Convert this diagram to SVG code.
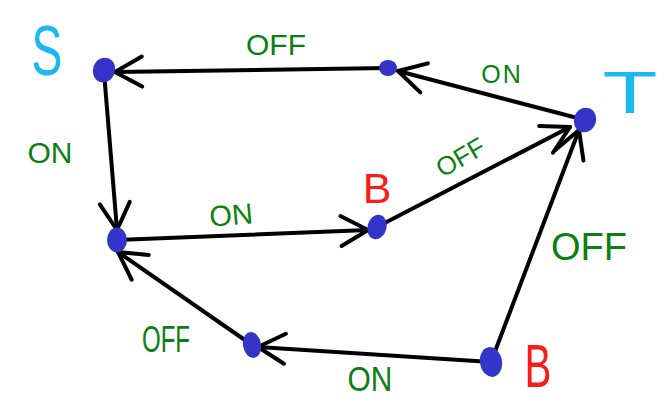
<svg xmlns="http://www.w3.org/2000/svg" width="668" height="415" viewBox="0 0 668 415">
<style>
.e{stroke:#000;stroke-width:4;stroke-linecap:round;fill:none;marker-end:url(#ah)}
.n{fill:#3434c8}
.lbl{font-family:"Liberation Sans",Arial,sans-serif;fill:#0b8012;text-anchor:middle}
.st{font-family:"Liberation Sans",Arial,sans-serif;fill:#1bb8f2;text-anchor:middle}
.b{font-family:"Liberation Sans",Arial,sans-serif;fill:#ff1a1a;text-anchor:middle}
</style>
<defs>
<marker id="ah" markerUnits="userSpaceOnUse" orient="auto" refX="0" refY="0" markerWidth="40" markerHeight="40" viewBox="-32 -20 40 40" overflow="visible">
<path d="M -27 -15 L 0 0 L -27 15" stroke="#000" stroke-width="4" stroke-linecap="round" stroke-linejoin="round" fill="none"/>
</marker>
</defs>
<rect width="668" height="415" fill="#fff"/>
<g id="connectors">
<line class="e" x1="388" y1="68" x2="115" y2="72"/>
<line class="e" x1="585" y1="120" x2="398" y2="71"/>
<line class="e" x1="104" y1="72" x2="117" y2="230"/>
<line class="e" x1="117" y1="240" x2="368" y2="230"/>
<line class="e" x1="377" y1="227" x2="570" y2="127"/>
<line class="e" x1="491" y1="362" x2="579" y2="130"/>
<line class="e" x1="491" y1="362" x2="258" y2="347"/>
<line class="e" x1="252" y1="345" x2="118" y2="252"/>
</g>
<g id="node-S"><ellipse class="n" cx="104" cy="70" rx="11" ry="12.5" transform="rotate(20 104 70)"/><text class="st" font-size="70" transform="translate(47,75) scale(0.66,1)">S</text></g>
<g id="node-top"><ellipse class="n" cx="388" cy="68" rx="9" ry="8"/></g>
<g id="node-T"><ellipse class="n" cx="585" cy="120" rx="11" ry="12.5" transform="rotate(20 585 120)"/><text class="st" font-size="60" transform="translate(630,113) scale(1.5,1)">T</text></g>
<g id="node-mid-left"><ellipse class="n" cx="117" cy="240" rx="10" ry="12.5"/></g>
<g id="node-B-mid"><ellipse class="n" cx="377" cy="227" rx="9.5" ry="12.5" transform="rotate(15 377 227)"/><text class="b" x="377" y="203" font-size="43">B</text></g>
<g id="node-bottom-mid"><ellipse class="n" cx="252" cy="345" rx="9" ry="13" transform="rotate(-10 252 345)"/></g>
<g id="node-B-bottom"><ellipse class="n" cx="491" cy="362" rx="11" ry="15" transform="rotate(-10 491 362)"/><text class="b" font-size="61" transform="translate(538,387) scale(0.66,1)">B</text></g>
<g id="labels">
<text class="lbl" x="276" y="55" font-size="30">OFF</text>
<text class="lbl" x="502" y="83" font-size="25" letter-spacing="2">ON</text>
<text class="lbl" x="50" y="163" font-size="30">ON</text>
<text class="lbl" font-size="26" transform="translate(465,165) rotate(-30)">OFF</text>
<text class="lbl" x="231" y="225" font-size="29" transform="rotate(-5 231 215)">ON</text>
<text class="lbl" font-size="37" transform="translate(166,352) scale(0.65,1)">OFF</text>
<text class="lbl" font-size="36" transform="translate(370,391) scale(0.83,1)">ON</text>
<text class="lbl" x="589" y="260" font-size="38">OFF</text>
</g>
</svg>
